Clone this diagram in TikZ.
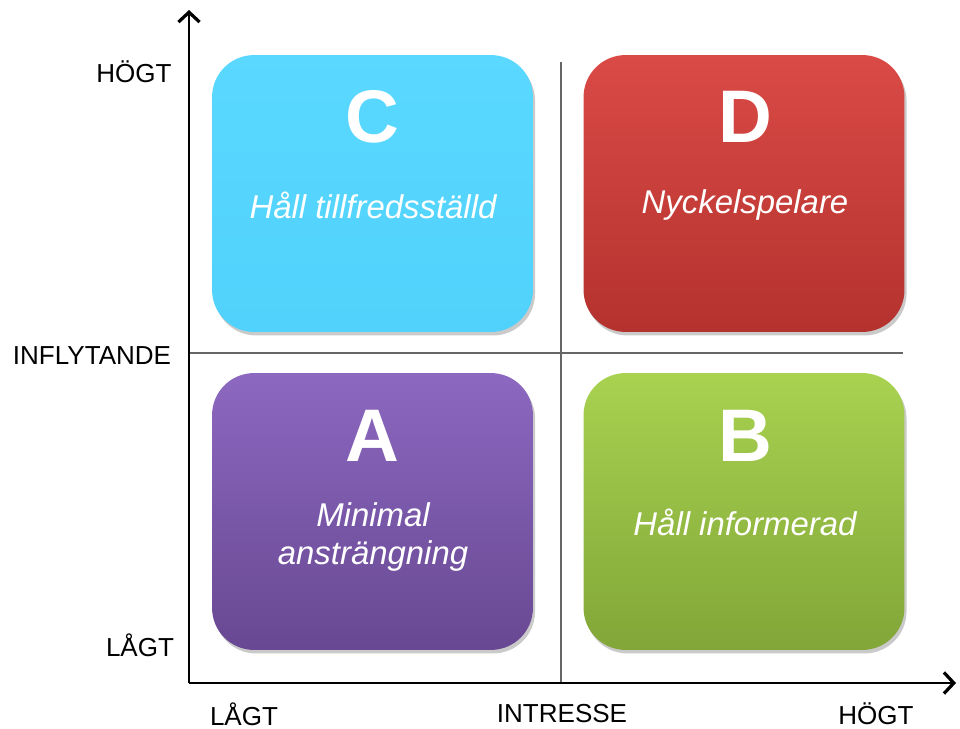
\documentclass[tikz,border=0pt]{standalone}
\usepackage{fontspec}
\setmainfont{Liberation Sans}
\usetikzlibrary{arrows.meta, positioning, shadows}

\begin{document}
\begin{tikzpicture}[x=0.025cm, y=-0.025cm]
    \tikzstyle{quad} = [rectangle, rounded corners=1.05cm, minimum width=8.02cm, minimum height=6.92cm, draw=none, drop shadow={shadow xshift=1.5pt, shadow yshift=-2.5pt, opacity=0.35, fill=black!60}]
    \tikzstyle{letter} = [text=white, font=\bfseries\fontsize{53}{60}\selectfont]
    \tikzstyle{role} = [text=white, align=center, font=\itshape\fontsize{23.4}{26.5}\selectfont]
    \tikzstyle{axislabel} = [text=black, font=\fontsize{18.5}{22}\selectfont]
    \tikzstyle{axis} = [draw, line width=2.1pt, -{Straight Barb[length=7pt, width=15pt, line width=2.3pt]}]
    \tikzstyle{divider} = [draw, gray!80!black, line width=1pt]

    \useasboundingbox (0,0) rectangle (960,729);

    % hjälplinjer
    \coordinate (origo) at (189,683);
    \coordinate (ytop) at (189,10);
    \coordinate (xend) at (956,683);
    \coordinate (vtop) at (561,62);
    \coordinate (vbot) at (561,683);
    \coordinate (hleft) at (189,353);
    \coordinate (hright) at (903,353);
    \path [divider] (vtop) -- (vbot);
    \path [divider] (hleft) -- (hright);

    % rutorna
    \node[quad, top color={rgb,255:red,90;green,216;blue,255}, bottom color={rgb,255:red,80;green,210;blue,252}] (boxC) at (372.5,193.5) {};
    \node[quad, top color={rgb,255:red,218;green,74;blue,70}, bottom color={rgb,255:red,180;green,50;blue,46}] (boxD) at (744,193.5) {};
    \node[quad, top color={rgb,255:red,140;green,104;blue,192}, bottom color={rgb,255:red,104;green,72;blue,146}] (boxA) at (372.5,511.5) {};
    \node[quad, top color={rgb,255:red,168;green,210;blue,80}, bottom color={rgb,255:red,130;green,166;blue,56}] (boxB) at (744,511.5) {};

    % bokstäver och texter
    \node[letter] (letC) at (372,117) {C};
    \node[letter] (letD) at (745,117) {D};
    \node[letter] (letA) at (372,436) {A};
    \node[letter] (letB) at (745,436) {B};
    \node[role] (txtC) at (373,205) {Håll tillfredsställd};
    \node[role] (txtD) at (745,205) {Nyckelspelare};
    \node[role] (txtA) at (373,537) {Minimal\\ansträngning};
    \node[role] (txtB) at (745,522) {Håll informerad};

    % axlar
    \path [axis] (origo) -- (ytop);
    \path [axis] (origo) -- (xend);

    % axeltexter
    \node[axislabel] (yhigh) at (134,72) {HÖGT};
    \node[axislabel] (ymid) at (92,356) {INFLYTANDE};
    \node[axislabel] (ylow) at (140,645) {LÅGT};
    \node[axislabel] (xlow) at (244,714) {LÅGT};
    \node[axislabel] (xmid) at (562,714) {INTRESSE};
    \node[axislabel] (xhigh) at (876,714) {HÖGT};
\end{tikzpicture}
\end{document}
